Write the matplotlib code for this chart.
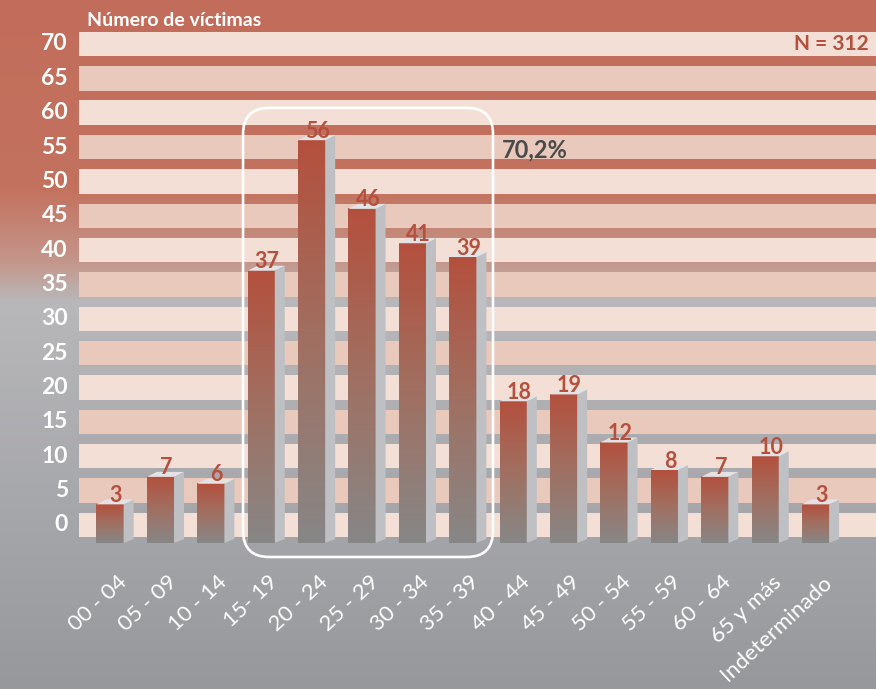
import numpy as np
import matplotlib
matplotlib.use("Agg")
import matplotlib.pyplot as plt
from matplotlib.colors import LinearSegmentedColormap, to_rgb
from matplotlib.patches import Polygon, FancyBboxPatch
from matplotlib import transforms

# ---------------- data ----------------
categories = ["00 - 04", "05 - 09", "10 - 14", "15- 19", "20 - 24", "25 - 29",
              "30 - 34", "35 - 39", "40 - 44", "45 - 49", "50 - 54", "55 - 59",
              "60 - 64", "65 y más", "Indeterminado"]
values = [3, 7, 6, 37, 56, 46, 41, 39, 18, 19, 12, 8, 7, 10, 3]
yticks = list(range(0, 75, 5))
y_title = "Número de víctimas"
n_label = "N = 312"
group_label = "70,2%"
group_first, group_last = 3, 7

# ---------------- style ----------------
FONT = "Lato"
W, H = 876, 689
RED_TXT = "#b5503f"
BAND_LIGHT = "#f3dfd6"
BAND_DARK = "#e9c9bc"
SIDE = "#bfc0c4"
TOPF = "#e3e3e5"
XLIM = (-2.183, 15.20)
YLIM = (-23.87, 76.40)
BASE = -2.62          # bars start slightly below zero
BW = 0.54             # front face width
DX = 10 / 50.39       # depth offset in x units
DY = 5 / 6.871        # depth offset in y units

fig = plt.figure(figsize=(W / 100, H / 100), dpi=100)
ax = fig.add_axes([0, 0, 1, 1])
ax.set_xlim(*XLIM)
ax.set_ylim(*YLIM)
ax.axis("off")

# background gradient (top red -> grey)
stops = [(0, "#c26d5b"), (190, "#c3725f"), (262, "#c4978b"), (302, "#b8b8bb"), (689, "#97989c")]
rows = np.arange(H)
img = np.zeros((H, 1, 3))
for c in range(3):
    img[:, 0, c] = np.interp(rows, [s[0] for s in stops], [to_rgb(s[1])[c] for s in stops])
ax.imshow(img, extent=(0, 1, 0, 1), transform=ax.transAxes, aspect="auto", zorder=0,
          interpolation="bilinear")

# horizontal bands
for v in yticks:
    col = BAND_LIGHT if v % 10 == 0 else BAND_DARK
    ax.axhspan(v - 1.78, v + 1.78, xmin=79 / W, xmax=1, color=col, lw=0, zorder=1)

# y tick labels
tr_y = transforms.blended_transform_factory(ax.transAxes, ax.transData)
for v in yticks:
    ax.text(68 / W, v, str(v), transform=tr_y, ha="right", va="center",
            fontsize=16.5, fontweight="bold", color="white", family=FONT, zorder=5)

# axis title
ax.text(87 / W, 1 - 21 / H, y_title, transform=ax.transAxes, ha="left", va="center",
        fontsize=14, fontweight="bold", color="white", family=FONT, zorder=5)

# N label
ax.text(1 - 7 / W, 70, n_label, transform=tr_y, ha="right", va="center",
        fontsize=15, fontweight="bold", color=RED_TXT, family=FONT, zorder=5)

# bars (pseudo 3D)
cmap = LinearSegmentedColormap.from_list("bar", ["#878787", "#a07062", "#b4503d"])
grad = np.linspace(1, 0, 256).reshape(-1, 1)
for i, v in enumerate(values):
    l, r = i - BW / 2, i + BW / 2
    ax.imshow(grad, extent=(l, r, BASE, v), cmap=cmap, aspect="auto", zorder=3,
              interpolation="bilinear", vmin=0, vmax=1)
    side = Polygon([(r, BASE), (r + DX, BASE + DY * 0.8), (r + DX, v + DY), (r, v)],
                   closed=True, fc=SIDE, ec="none", zorder=3)
    ax.add_patch(side)
    top = Polygon([(l, v), (l + DX, v + DY), (r + DX, v + DY), (r, v)],
                  closed=True, fc=TOPF, ec="none", zorder=3)
    ax.add_patch(top)
    ax.text(i + 0.12, v + 0.35, str(v), ha="center", va="baseline", fontsize=15.5,
            fontweight="bold", color=RED_TXT, family=FONT, zorder=4)

# x labels
for i, lab in enumerate(categories):
    ax.text(i + 0.27, -7.9, lab, ha="right", va="center", rotation=43,
            rotation_mode="anchor", fontsize=16, color="white", family=FONT, zorder=5)

# rounded highlight box
x0 = group_first - 0.36
x1 = group_last + 0.6
y0, y1 = -4.66, 60.7
aspect = (1 / 6.871) / (1 / 50.39)
box = FancyBboxPatch((x0, y0), x1 - x0, y1 - y0,
                     boxstyle="round,pad=0,rounding_size=0.52",
                     mutation_aspect=aspect, fc="none", ec="white", lw=1.9, zorder=6)
ax.add_patch(box)
ax.text(x1 + 0.18, 54.6, group_label, ha="left", va="center", fontsize=17,
        fontweight="bold", color="#4a4a4a", family=FONT, zorder=5)

fig.savefig("out.png", dpi=100)
